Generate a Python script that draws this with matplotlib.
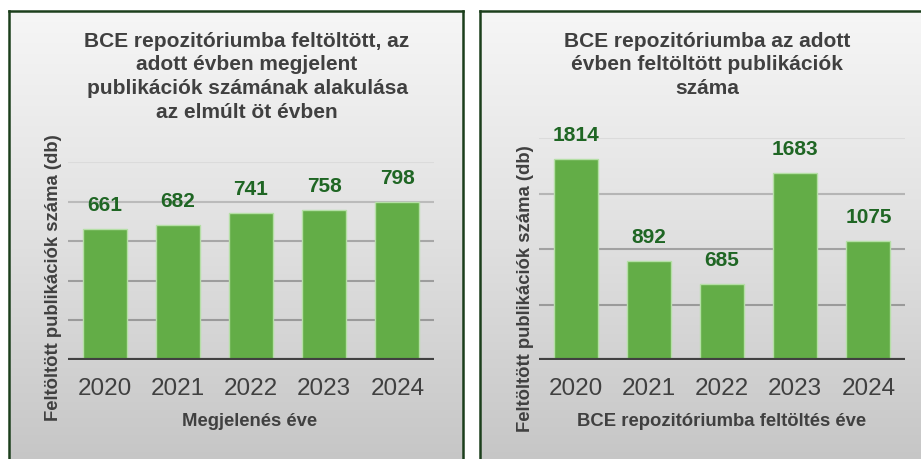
import matplotlib
matplotlib.use("Agg")
import matplotlib.pyplot as plt
import numpy as np
from matplotlib.colors import LinearSegmentedColormap

plt.rcParams['font.family'] = ['Liberation Sans', 'DejaVu Sans']

years = ["2020", "2021", "2022", "2023", "2024"]
left_values = [661, 682, 741, 758, 798]
right_values = [1814, 892, 685, 1683, 1075]
left_title = "BCE repozitóriumba feltöltött, az\nadott évben megjelent\npublikációk számának alakulása\naz elmúlt öt évben"
right_title = "BCE repozitóriumba az adott\névben feltöltött publikációk\nszáma"
ylabel = "Feltöltött publikációk száma (db)"
left_xlabel = "Megjelenés éve"
right_xlabel = "BCE repozitóriumba feltöltés éve"
left_ticks = [0, 200, 400, 600, 800, 1000]
right_ticks = [0, 500, 1000, 1500, 2000]

W, H = 921, 459
fig = plt.figure(figsize=(W / 100, H / 100), dpi=100)
fig.patch.set_facecolor('white')

def px_rect(x0, y0, x1, y1):
    return [x0 / W, 1 - y1 / H, (x1 - x0) / W, (y1 - y0) / H]

grad_cmap = LinearSegmentedColormap.from_list("g", ["#F6F6F6", "#E0E0E0", "#C5C5C5"])
border = "#1C3F1C"

def panel(x0, x1):
    bg = fig.add_axes(px_rect(x0, 11, x1, 470), zorder=0)
    grad = np.linspace(0, 1, 256).reshape(-1, 1)
    bg.imshow(grad, cmap=grad_cmap, aspect='auto', extent=[0, 1, 0, 1], origin='upper')
    bg.set_xlim(0, 1); bg.set_ylim(0, 1)
    bg.set_xticks([]); bg.set_yticks([])
    for s in bg.spines.values():
        s.set_color(border)
        s.set_linewidth(1.8)

panel(9, 463)
panel(480, 935)

bar_color = "#63AD47"
edge_color = "#B5DFA6"
label_color = "#1F6624"
text_gray = "#404040"

def chart(rect, values, ticks):
    ax = fig.add_axes(rect, zorder=2)
    ax.patch.set_alpha(0)
    x = np.arange(len(years))
    top = ticks[-1]
    for t in ticks[1:]:
        frac = t / top
        c = np.array([0.60, 0.60, 0.60]) * (1 - frac ** 3) + np.array([0.86, 0.86, 0.86]) * frac ** 3
        ax.axhline(t, color=c, lw=1.5, zorder=0)
    bars = ax.bar(x, values, width=0.6, color=bar_color, edgecolor=edge_color, lw=1, zorder=2)
    for b, v in zip(bars, values):
        ax.annotate(str(v), (b.get_x() + b.get_width() / 2, v), xytext=(0, 10),
                    textcoords='offset points', ha='center', va='bottom',
                    fontsize=15, fontweight='bold', color=label_color)
    ax.axhline(0, color=text_gray, lw=3, zorder=3)
    ax.set_ylim(0, top)
    ax.set_xlim(-0.5, len(years) - 0.5)
    ax.set_yticks([])
    ax.set_xticks(x)
    ax.set_xticklabels(years, fontsize=17.5, color=text_gray)
    ax.tick_params(axis='x', length=0, pad=13)
    for s in ax.spines.values():
        s.set_visible(False)
    return ax

chart(px_rect(68, 162, 434, 360), left_values, left_ticks)
chart(px_rect(539, 138, 905, 360), right_values, right_ticks)

fig.text(247 / W, 1 - 32 / H, left_title, ha='center', va='top', fontsize=15,
         fontweight='bold', color=text_gray, linespacing=1.3, zorder=5)
fig.text(707 / W, 1 - 32 / H, right_title, ha='center', va='top', fontsize=15,
         fontweight='bold', color=text_gray, linespacing=1.3, zorder=5)

fig.text(53 / W, 1 - 278 / H, ylabel, rotation=90, ha='center', va='center',
         fontsize=13.3, fontweight='bold', color=text_gray, zorder=5)
fig.text(525 / W, 1 - 289 / H, ylabel, rotation=90, ha='center', va='center',
         fontsize=13.3, fontweight='bold', color=text_gray, zorder=5)

fig.text(250 / W, 1 - 422 / H, left_xlabel, ha='center', va='center',
         fontsize=13.3, fontweight='bold', color=text_gray, zorder=5)
fig.text(722 / W, 1 - 422 / H, right_xlabel, ha='center', va='center',
         fontsize=13.3, fontweight='bold', color=text_gray, zorder=5)

fig.savefig("out.png", dpi=100)
